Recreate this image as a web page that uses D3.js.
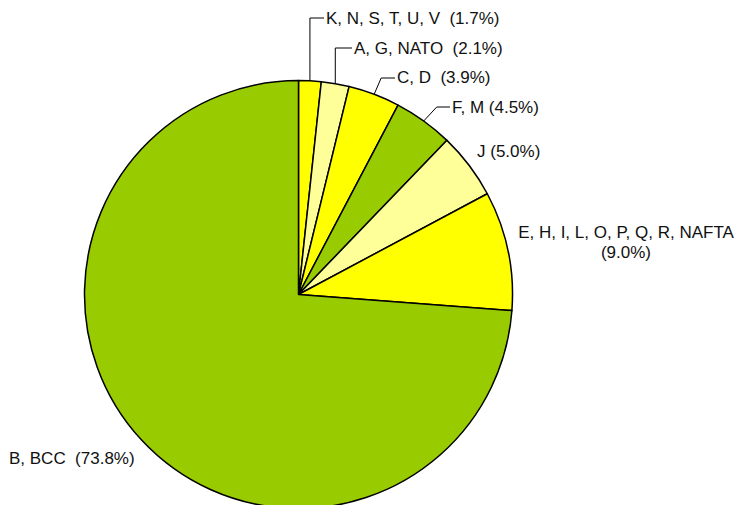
<html>
<script src="https://d3js.org/d3.v7.min.js"></script>
<body style="margin:0">
<script>
    var width = 739, height = 505
    // slices clockwise from 12 o'clock
    var labels = ['K, N, S, T, U, V  (1.7%)', 'A, G, NATO  (2.1%)', 'C, D  (3.9%)', 'F, M (4.5%)', 'J (5.0%)', 'E, H, I, L, O, P, Q, R, NAFTA', 'B, BCC  (73.8%)']
    var values = [1.7, 2.1, 3.9, 4.5, 5.0, 9.0, 73.8]
    var colors = ['#FFFF00', '#FFFF99', '#FFFF00', '#99CC00', '#FFFF99', '#FFFF00', '#99CC00']

    var cx = 298.5, cy = 294.5, r = 214
    var svg = d3.select('body').append('svg').attr('width', width).attr('height', height)
    svg.append('rect').attr('width', width).attr('height', height).attr('fill', 'white')

    var pie = d3.pie().sort(null).value(function(d){return d})
    var arcs = pie(values)
    var arc = d3.arc().innerRadius(0).outerRadius(r)
    var g = svg.append('g').attr('transform', `translate(${cx},${cy})`)
    g.selectAll('path').data(arcs).enter().append('path')
        .attr('d', arc).attr('fill', function(d,i){return colors[i]})
        .attr('stroke', 'black').attr('stroke-width', 1.5).attr('stroke-linejoin', 'round')

    // label layout: [elbow x offset, elbow y, line end x, text x, baseline]
    var lay = [
        [0, 18, 324, 326, 24],
        [0, 48, 352, 354, 54],
        [7, 78, 395, 397, 83],
        [13, 107, 450, 452, 113]
    ]
    var font = '"Liberation Sans", Arial, sans-serif'
    function label(sel) {
        return sel.style('font-family', font).style('font-size', '17px')
            .style('white-space', 'pre').attr('xml:space', 'preserve').attr('fill', '#111')
    }
    lay.forEach(function(l, i){
        var a = (arcs[i].startAngle + arcs[i].endAngle) / 2
        var px = cx + r * Math.sin(a), py = cy - r * Math.cos(a)
        svg.append('path').attr('d', `M${px},${py} L${px + l[0]},${l[1]} L${l[2]},${l[1]}`)
            .attr('fill', 'none').attr('stroke', 'black').attr('stroke-width', 1)
        label(svg.append('text').attr('x', l[3]).attr('y', l[4]).text(labels[i]))
    })
    label(svg.append('text').attr('x', 477).attr('y', 157).text(labels[4]))
    var t = label(svg.append('text').attr('text-anchor', 'middle'))
    t.append('tspan').attr('x', 626).attr('y', 238).text(labels[5])
    t.append('tspan').attr('x', 626).attr('y', 258).text('(' + values[5].toFixed(1) + '%)')
    label(svg.append('text').attr('x', 9).attr('y', 464).text(labels[6]))
</script>
</body>
</html>
